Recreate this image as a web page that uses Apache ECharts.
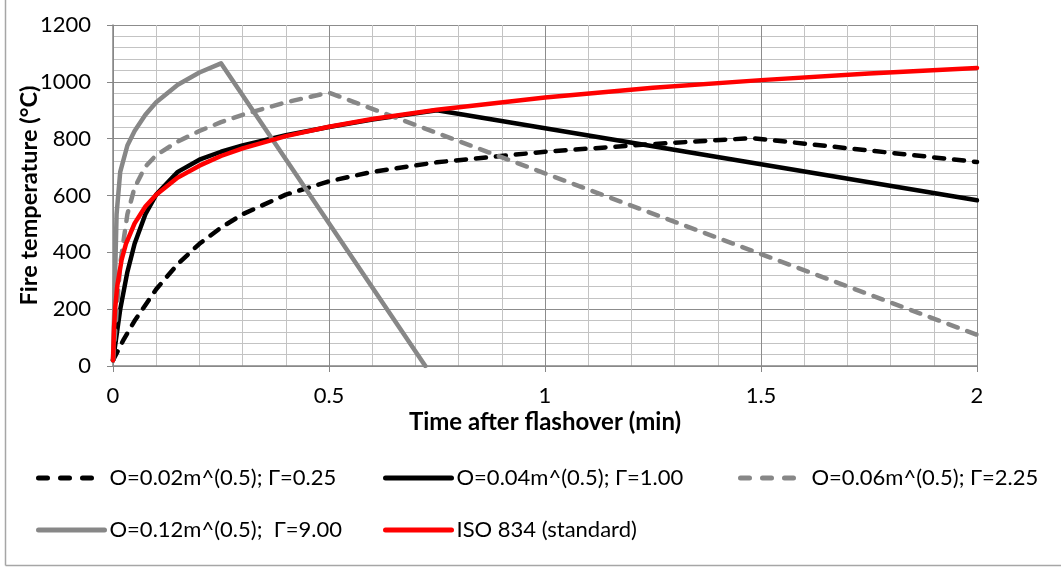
<!DOCTYPE html>
<html>
<head>
<meta charset="utf-8">
<script src="https://cdn.jsdelivr.net/npm/echarts@6/dist/echarts.min.js"></script>
<style>
html,body{margin:0;padding:0;background:#fff;}
#chart{width:1061px;height:567px;}
</style>
</head>
<body>
<div id="chart"></div>
<script>
// ---- data ----
const seriesNames = [
  'O=0.02m^(0.5); Γ=0.25',
  'O=0.04m^(0.5); Γ=1.00',
  'O=0.06m^(0.5); Γ=2.25',
  'O=0.12m^(0.5);  Γ=9.00',
  'ISO 834 (standard)'
];
const xG025 = [0, 0.025, 0.05, 0.1, 0.15, 0.2, 0.25, 0.3, 0.4, 0.5, 0.6, 0.75, 1, 1.25, 1.48, 2];
const yG025 = [20, 94, 159, 270, 359, 430, 487, 534, 603, 650, 683, 717, 754, 781, 802, 718];

const xG100 = [0, 0.0167, 0.0333, 0.05, 0.075, 0.1, 0.15, 0.2, 0.25, 0.3, 0.4, 0.5, 0.6, 0.75, 2];
const yG100 = [20, 199, 331, 430, 534, 603, 683, 726, 754, 776, 812, 841, 867, 900, 583];

const xG225 = [0, 0.0167, 0.0333, 0.05, 0.075, 0.1, 0.15, 0.2, 0.25, 0.3, 0.4, 0.5, 2];
const yG225 = [20, 359, 534, 628, 702, 742, 790, 827, 858, 884, 928, 962, 110];

const xG900 = [0, 0.0083, 0.0167, 0.0333, 0.05, 0.075, 0.1, 0.15, 0.2, 0.25, 0.723];
const yG900 = [20, 534, 683, 776, 827, 884, 928, 990, 1033, 1065, 0];

const xISO = [0, 0.0025, 0.005, 0.01, 0.02, 0.03, 0.05, 0.075, 0.1, 0.15, 0.2, 0.25, 0.3, 0.4, 0.5, 0.6, 0.75, 1, 1.25, 1.5, 1.75, 2];
const yISO = [20, 138, 203, 283, 374, 430, 502, 561, 603, 663, 705, 739, 766, 809, 842, 869, 902, 945, 979, 1006, 1029, 1049];

const xTicks = [0, 0.5, 1, 1.5, 2];
const yTicks = [0, 200, 400, 600, 800, 1000, 1200];

// ---- chart ----
const FONT = 'Lato, "Noto Sans", sans-serif';
const pairs = (xs, ys) => xs.map((x, i) => [x, ys[i]]);
const DASH = [10, 10];
const LEGEND_DASH = [9, 13];

const seriesDefs = [
  {name: seriesNames[0], data: pairs(xG025, yG025), color: '#000000', dash: DASH, ldash: LEGEND_DASH},
  {name: seriesNames[1], data: pairs(xG100, yG100), color: '#000000', dash: 'solid', ldash: 'solid'},
  {name: seriesNames[2], data: pairs(xG225, yG225), color: '#878787', dash: DASH, ldash: LEGEND_DASH},
  {name: seriesNames[3], data: pairs(xG900, yG900), color: '#878787', dash: 'solid', ldash: 'solid'},
  {name: seriesNames[4], data: pairs(xISO, yISO), color: '#ff0000', dash: 'solid', ldash: 'solid'}
];

const legendPos = [
  {left: 31, top: 462},
  {left: 378, top: 462},
  {left: 733, top: 462},
  {left: 31, top: 514},
  {left: 378, top: 514}
];

const chart = echarts.init(document.getElementById('chart'), null, {renderer: 'canvas'});
chart.setOption({
  animation: false,
  backgroundColor: '#ffffff',
  textStyle: {fontFamily: FONT},
  grid: {left: 113, right: 84, top: 25, bottom: 201, containLabel: false, outerBoundsMode: 'none'},
  legend: seriesDefs.map((s, i) => ({
    data: [s.name],
    left: legendPos[i].left,
    top: legendPos[i].top,
    itemWidth: 66,
    itemHeight: 24,
    itemStyle: {opacity: 0, color: 'transparent', borderWidth: 0},
    lineStyle: {width: 5, type: s.ldash, color: s.color, cap: 'round'},
    textStyle: {fontFamily: FONT, fontSize: 22, color: '#000'},
    selectedMode: false
  })),
  xAxis: {
    type: 'value',
    min: 0, max: 2, interval: 0.5,
    name: 'Time after flashover (min)',
    nameLocation: 'middle',
    nameGap: 44,
    nameMoveOverlap: false,
    nameTextStyle: {fontFamily: FONT, fontSize: 24, fontWeight: 'bold', color: '#000'},
    axisLine: {show: true, lineStyle: {color: '#868686', width: 1.5}},
    axisTick: {show: true, length: 6, lineStyle: {color: '#868686'}},
    axisLabel: {fontFamily: FONT, fontSize: 22, color: '#000', margin: 19,
      formatter: v => String(v)},
    splitLine: {show: true, lineStyle: {color: '#8c8c8c', width: 1}},
    minorTick: {show: false, splitNumber: 5},
    minorSplitLine: {show: true, lineStyle: {color: '#c3c3c3', width: 1}}
  },
  yAxis: {
    type: 'value',
    min: 0, max: 1200, interval: 200,
    name: 'Fire temperature (°C)',
    nameLocation: 'middle',
    nameGap: 72,
    nameMoveOverlap: false,
    nameRotate: 90,
    nameTextStyle: {fontFamily: FONT, fontSize: 23.5, fontWeight: 'bold', color: '#000'},
    axisLine: {show: true, lineStyle: {color: '#868686', width: 1.5}},
    axisTick: {show: true, length: 6, lineStyle: {color: '#868686'}},
    axisLabel: {fontFamily: FONT, fontSize: 22, color: '#000', margin: 22,
      formatter: v => String(v)},
    splitLine: {show: true, lineStyle: {color: '#8c8c8c', width: 1}},
    minorTick: {show: false, splitNumber: 5},
    minorSplitLine: {show: true, lineStyle: {color: '#c3c3c3', width: 1}}
  },
  graphic: [
    {type: 'line', shape: {x1: 5.5, y1: 0, x2: 5.5, y2: 565.5}, style: {stroke: '#a6a6a6', lineWidth: 1.5}, silent: true},
    {type: 'line', shape: {x1: 5.5, y1: 565.5, x2: 1061, y2: 565.5}, style: {stroke: '#a6a6a6', lineWidth: 1.5}, silent: true}
  ],
  series: seriesDefs.map(s => ({
    name: s.name,
    type: 'line',
    data: s.data,
    showSymbol: false,
    symbol: 'none',
    smooth: false,
    clip: true,
    color: s.color,
    lineStyle: {color: s.color, width: 4.5, type: s.dash, cap: 'round', join: 'round'},
    itemStyle: {color: s.color}
  }))
});
</script>
</body>
</html>
